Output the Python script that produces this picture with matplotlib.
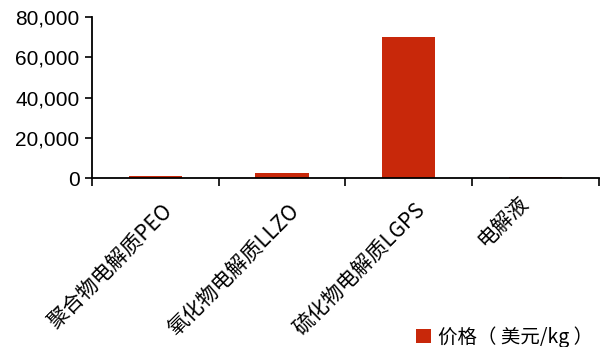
import matplotlib
matplotlib.use("Agg")
import matplotlib.pyplot as plt
import matplotlib.transforms as mtransforms
from matplotlib.ticker import FuncFormatter, FixedLocator

plt.rcParams['font.family'] = ['Liberation Sans', 'Noto Sans CJK SC', 'DejaVu Sans']

categories = ["聚合物电解质PEO", "氧化物电解质LLZO", "硫化物电解质LGPS", "电解液"]
prices = [1100, 2300, 70000, 600]
yticks = [0, 20000, 40000, 60000, 80000]
series_name = "价格（ 美元/kg ）"
color = "#C8280A"

# per-label nudges in pixels (x right, y up) to mimic the reference placement
label_nudges = [(6, -8), (6, -8), (6, -8), (-18, 1)]

fig = plt.figure(figsize=(6.05, 3.47), dpi=100)
ax = fig.add_axes([0.152, 0.487, 0.838, 0.464])
x = list(range(len(categories)))
ax.bar(x, prices, width=0.42, color=color, label=series_name)
ax.set_xlim(-0.5, len(categories) - 0.5)
ax.set_ylim(0, 80000)
ax.set_yticks(yticks)
ax.yaxis.set_major_formatter(FuncFormatter(lambda v, p: f"{int(v):,}"))
ax.tick_params(axis='y', labelsize=15, length=5, width=1.2, direction='out', pad=4)
ax.set_xticks(x)
ax.set_xticklabels(categories, rotation=45, ha='right', rotation_mode='anchor',
                   fontsize=15, family=['Noto Sans CJK SC', 'DejaVu Sans'])
ax.tick_params(axis='x', which='major', length=0, pad=10)
ax.xaxis.set_minor_locator(FixedLocator([i - 0.5 for i in range(len(categories) + 1)]))
ax.tick_params(axis='x', which='minor', length=6, width=1.2, direction='out')
for lbl, (dx, dy) in zip(ax.get_xticklabels(), label_nudges):
    off = mtransforms.ScaledTranslation(dx / 100, dy / 100, fig.dpi_scale_trans)
    lbl.set_transform(lbl.get_transform() + off)
for s in ['top', 'right']:
    ax.spines[s].set_visible(False)
for s in ['left', 'bottom']:
    ax.spines[s].set_linewidth(1.3)

fig.legend(loc='lower right', bbox_to_anchor=(0.993, -0.024), frameon=False,
           borderaxespad=0,
           prop={'family': ['Noto Sans CJK SC', 'DejaVu Sans'], 'size': 14},
           handlelength=0.75, handleheight=0.75, handletextpad=0.35)

fig.savefig("out.png", dpi=100)
